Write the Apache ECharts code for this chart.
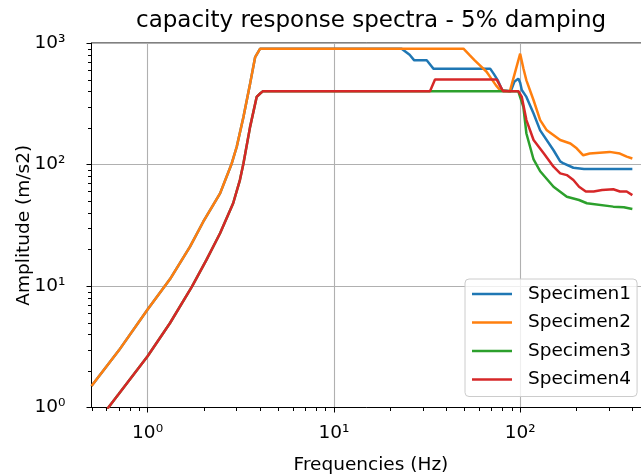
<!DOCTYPE html>
<html>
<head>
  <meta charset="utf-8">
  <script src="https://cdn.jsdelivr.net/npm/echarts@6/dist/echarts.min.js"></script>
  <style>
    html, body { margin: 0; padding: 0; background: #fff; }
  </style>
</head>
<body>
<div id="main" style="width:641px;height:475px;"></div>
<script type="text/javascript">
// values (frequency in Hz, amplitude in m/s2)
var spec1Freq = [0.5, 0.7, 1.0, 1.32, 1.69, 1.99, 2.45, 2.83, 3.01, 3.27, 3.55, 3.78, 4.02, 23.1, 25.5, 27, 31.5, 33.5, 34.2, 69, 72, 76, 80, 82, 89, 93, 97.7, 100, 102, 108, 118, 128, 151, 164, 171, 193, 220, 300, 400];
var spec1Amp  = [1.5, 2.94, 6.4, 11.4, 21.1, 33.8, 57.9, 102, 140, 246, 463, 766, 898, 898, 800, 720, 720, 640, 615, 615, 560, 490, 410, 400, 400, 480, 509, 470, 410, 360, 263, 191, 131, 106, 102, 94, 92, 92, 92];

var spec2Freq = [0.5, 0.7, 1.0, 1.32, 1.69, 1.99, 2.45, 2.83, 3.01, 3.27, 3.55, 3.78, 4.02, 49.6, 53.7, 57, 60.8, 66, 70, 74, 78, 88, 100, 104, 108, 118, 128, 139, 164, 186, 201, 218, 236, 302, 343, 373, 400];
var spec2Amp  = [1.5, 2.94, 6.4, 11.4, 21.1, 33.8, 57.9, 102, 140, 246, 463, 766, 898, 898, 791, 720, 655, 580, 509, 450, 408, 400, 817, 620, 493, 338, 232, 191, 159, 149, 136, 119, 123, 127, 123, 116, 112];

var spec3Freq = [0.5, 0.7, 1.0, 1.32, 1.73, 2.07, 2.45, 2.88, 3.13, 3.27, 3.55, 3.85, 4.02, 4.15, 97.7, 104, 108, 118, 128, 151, 178, 207, 228, 316, 360, 400];
var spec3Amp  = [0.66, 1.29, 2.64, 4.96, 9.9, 16.4, 27.2, 48, 74.5, 102, 204, 360, 384, 400, 400, 298, 180, 110, 88, 65.6, 54.3, 51, 48, 45, 44.5, 43];

var spec4Freq = [0.5, 0.7, 1.0, 1.32, 1.73, 2.07, 2.45, 2.88, 3.13, 3.27, 3.55, 3.85, 4.02, 4.15, 32.8, 34.9, 74.8, 81, 98, 102, 108, 118, 134, 151, 164, 178, 193, 207, 225, 248, 275, 316, 343, 373, 400];
var spec4Amp  = [0.66, 1.29, 2.64, 4.96, 9.9, 16.4, 27.2, 48, 74.5, 102, 204, 360, 384, 400, 400, 500, 500, 400, 400, 360, 232, 159, 123, 96, 84.5, 81.8, 74.5, 65.6, 60, 60, 61.6, 62.6, 60, 60, 56];

var seriesNames = ['Specimen1', 'Specimen2', 'Specimen3', 'Specimen4'];
var seriesColors = ['#1f77b4', '#ff7f0e', '#2ca02c', '#d62728'];

// ticks of the log axes
var xMajorTicks = [1, 10, 100];
var yMajorTicks = [1, 10, 100, 1000];
var xMinorTicks = [0.5, 0.6, 0.7, 0.8, 0.9, 2, 3, 4, 5, 6, 7, 8, 9, 20, 30, 40, 50, 60, 70, 80, 90, 200, 300, 400];
var yMinorTicks = [2, 3, 4, 5, 6, 7, 8, 9, 20, 30, 40, 50, 60, 70, 80, 90, 200, 300, 400, 500, 600, 700, 800, 900];

var supDigits = ['\u2070', '\u00b9', '\u00b2', '\u00b3', '\u2074', '\u2075', '\u2076', '\u2077', '\u2078', '\u2079'];

function pairs(f, a) {
  var res = [];
  for (var i = 0; i < f.length; i++) res.push([f[i], a[i]]);
  return res;
}

function powLabel(v) {
  var e = Math.log(v) / Math.LN10;
  var r = Math.round(e);
  if (Math.abs(e - r) > 1e-6) return '';
  return '10' + (r < 0 ? '\u207b' : '') + supDigits[Math.abs(r)];
}

var chart = echarts.init(document.getElementById('main'), null, {renderer: 'canvas'});

var allSeries = [
  pairs(spec1Freq, spec1Amp),
  pairs(spec2Freq, spec2Amp),
  pairs(spec3Freq, spec3Amp),
  pairs(spec4Freq, spec4Amp)
].map(function (d, i) {
  return {
    name: seriesNames[i],
    type: 'line',
    data: d,
    showSymbol: false,
    symbol: 'none',
    lineStyle: {color: seriesColors[i], width: 2.5},
    itemStyle: {color: seriesColors[i]},
    z: 3 + i
  };
});

// x minor ticks as a custom series on the log scale
allSeries.push({
  type: 'custom',
  name: 'xMinor',
  coordinateSystem: 'cartesian2d',
  clip: false,
  silent: true,
  z: 20,
  encode: {x: 0, y: 1},
  data: xMinorTicks.map(function (v) { return [v, 1]; }),
  renderItem: function (params, api) {
    var p = api.coord([api.value(0), api.value(1)]);
    var x = Math.round(p[0]) + 0.5;
    return {
      type: 'line',
      shape: {x1: x, y1: p[1], x2: x, y2: p[1] + 3.5},
      style: {stroke: '#000', lineWidth: 1}
    };
  }
});

var labelFont = {fontFamily: 'DejaVu Sans', fontSize: 18.5, color: '#000'};
var black = {color: '#000', width: 1};

chart.setOption({
  animation: false,
  backgroundColor: '#fff',
  textStyle: {fontFamily: 'DejaVu Sans'},
  title: {
    text: 'capacity response spectra - 5% damping',
    left: 136,
    top: 10,
    padding: 0,
    textStyle: {fontFamily: 'DejaVu Sans', fontSize: 23, fontWeight: 'normal', color: '#000'}
  },
  grid: {
    left: 91.5, right: -9.4, top: 43, bottom: 67.5,
    outerBoundsMode: 'none',
    containLabel: false,
    show: true, borderColor: '#000', borderWidth: 1, backgroundColor: 'transparent'
  },
  legend: {
    data: seriesNames,
    orient: 'vertical',
    left: 465,
    top: 279,
    padding: [5, 6, 7, 7],
    itemGap: 8.5,
    itemWidth: 40,
    itemHeight: 2.5,
    icon: 'rect',
    backgroundColor: 'rgba(255,255,255,0.8)',
    borderColor: '#cccccc',
    borderWidth: 1,
    borderRadius: 4,
    textStyle: {fontFamily: 'DejaVu Sans', fontSize: 18.5, color: '#000', lineHeight: 20, padding: [0, 0, 0, 11]}
  },
  xAxis: {
    type: 'log',
    logBase: 10,
    min: 0.5,
    max: 500,
    position: 'bottom',
    name: 'Frequencies (Hz)',
    nameLocation: 'middle',
    nameGap: 48,
    nameMoveOverlap: false,
    nameTextStyle: labelFont,
    axisLine: {show: true, lineStyle: black},
    axisTick: {show: true, length: 5, customValues: xMajorTicks, lineStyle: black},
    axisLabel: Object.assign({formatter: powLabel, margin: 16, customValues: xMajorTicks}, labelFont),
    splitLine: {show: true, lineStyle: {color: '#b0b0b0', width: 1.1}}
  },
  yAxis: {
    type: 'log',
    logBase: 10,
    min: 1,
    max: 1000,
    position: 'left',
    name: 'Amplitude (m/s2)',
    nameLocation: 'middle',
    nameGap: 58,
    nameMoveOverlap: false,
    nameTextStyle: labelFont,
    axisLine: {show: true, lineStyle: black},
    axisTick: {show: true, length: 5, customValues: yMajorTicks, lineStyle: black},
    axisLabel: Object.assign({formatter: powLabel, margin: 26, customValues: yMajorTicks}, labelFont),
    splitLine: {show: true, lineStyle: {color: '#b0b0b0', width: 1.1}}
  },
  series: allSeries
});

// y minor ticks, placed through the axis's own log scale
var minorLines = [];
var xBase = chart.convertToPixel({xAxisIndex: 0}, 0.5);
yMinorTicks.forEach(function (v) {
  var y = Math.round(chart.convertToPixel({yAxisIndex: 0}, v)) + 0.5;
  minorLines.push({type: 'line', silent: true, z: 20,
    shape: {x1: xBase, y1: y, x2: xBase - 3.5, y2: y}, style: {stroke: '#000', lineWidth: 1}});
});
chart.setOption({graphic: {elements: minorLines}});
</script>
</body>
</html>
